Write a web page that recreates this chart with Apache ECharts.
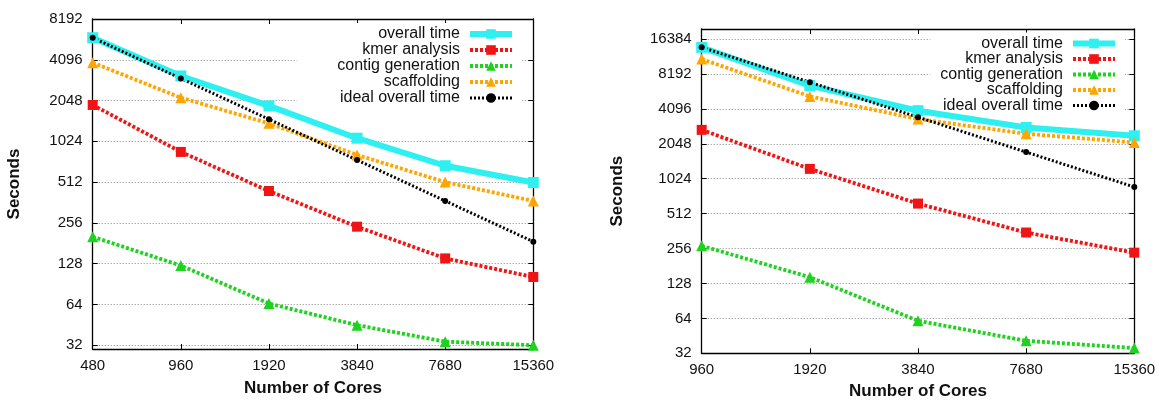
<!DOCTYPE html>
<html><head><meta charset="utf-8">
<script src="https://cdn.jsdelivr.net/npm/echarts@6/dist/echarts.min.js"></script>
<style>html,body{margin:0;padding:0;background:#fff}#c{width:1159px;height:400px}</style>
</head><body><div id="c"></div>
<script>
// ---- data ----
const coresLeft = ['480', '960', '1920', '3840', '7680', '15360'];
const coresRight = ['960', '1920', '3840', '7680', '15360'];
const seriesNames = ['overall time', 'kmer analysis', 'contig generation', 'scaffolding', 'ideal overall time'];

const leftOverall = [5960, 3110, 1870, 1080, 676, 508];
const leftKmer = [1900, 855, 440, 240, 140, 102];
const leftContig = [202, 124, 65, 45, 34, 32];
const leftScaffolding = [3900, 2150, 1390, 813, 512, 372];
const leftIdeal = [5960, 2980, 1490, 745, 372, 186];

const rightOverall = [13900, 6500, 3950, 2830, 2400];
const rightKmer = [2700, 1245, 625, 352, 236];
const rightContig = [270, 145, 61, 41, 35.5];
const rightScaffolding = [11000, 5250, 3350, 2500, 2100];
const rightIdeal = [13900, 6950, 3475, 1737, 869];

const leftYMin = 30, leftYMax = 8192;
const rightYMin = 32, rightYMax = 20000;

// ---- styles ----
const FONT = 'Liberation Sans, Arial, Helvetica, sans-serif';
const styleOf = {
  'overall time': {color: '#2ef0f0', width: 6, type: 'solid', symbol: 'rect', size: 11},
  'kmer analysis': {color: '#f01414', width: 3.8, type: [3, 2], symbol: 'rect', size: 10},
  'contig generation': {color: '#1fd21f', width: 3.8, type: [3, 2], symbol: 'triangle', size: 11},
  'scaffolding': {color: '#ffa500', width: 3.8, type: [3, 2], symbol: 'triangle', size: 11},
  'ideal overall time': {color: '#000000', width: 3, type: [2, 2], symbol: 'circle', size: 6}
};
const leftData = [leftOverall, leftKmer, leftContig, leftScaffolding, leftIdeal];
const rightData = [rightOverall, rightKmer, rightContig, rightScaffolding, rightIdeal];

function mkSeries(name, data, xi, yi) {
  const s = styleOf[name];
  return {
    name: name, type: 'line', data: data, xAxisIndex: xi, yAxisIndex: yi, z: 3,
    symbol: s.symbol, symbolSize: s.size, showAllSymbol: true,
    itemStyle: {color: s.color},
    lineStyle: {color: s.color, width: s.width, type: s.type, cap: 'butt'},
    emphasis: {disabled: true}, animation: false
  };
}

function xAx(cats, gridIndex, pos, nameGap) {
  const bottom = pos === 'bottom';
  return {
    type: 'category', gridIndex: gridIndex, position: pos, data: cats, boundaryGap: false,
    name: bottom ? 'Number of Cores' : '', nameLocation: 'middle', nameGap: nameGap,
    nameTextStyle: {fontFamily: FONT, fontWeight: 'bold', fontSize: 17, color: '#111'},
    axisLine: {show: true, lineStyle: {color: '#000', width: 1.3}},
    axisTick: {show: true, inside: true, length: 5, alignWithLabel: true, lineStyle: {color: '#000', width: 1}},
    axisLabel: {show: bottom, margin: 9, fontFamily: FONT, fontSize: 15, color: '#111'},
    splitLine: {show: false}
  };
}
function yAx(gridIndex, pos, min, max, nameGap) {
  const left = pos === 'left';
  return {
    type: 'log', logBase: 2, gridIndex: gridIndex, position: pos, min: min, max: max,
    name: left ? 'Seconds' : '', nameLocation: 'middle', nameGap: nameGap,
    nameTextStyle: {fontFamily: FONT, fontWeight: 'bold', fontSize: 17, color: '#111'},
    axisLine: {show: true, lineStyle: {color: '#000', width: 1.3}},
    axisTick: {show: true, inside: true, length: 5, lineStyle: {color: '#000', width: 1}},
    axisLabel: {show: left, margin: 10, fontFamily: FONT, fontSize: 15, color: '#111',
      showMinLabel: min === 32, showMaxLabel: max === 8192,
      formatter: v => String(Math.round(v))},
    splitLine: {show: left, lineStyle: {color: '#8a8a8a', width: 1, type: [1, 2]}}
  };
}

const series = [];
seriesNames.forEach((n, i) => series.push(mkSeries(n, leftData[i], 0, 0)));
seriesNames.forEach((n, i) => series.push(mkSeries(n, rightData[i], 2, 2)));

const legendItems = seriesNames.map(n => {
  const s = styleOf[n];
  return {
    name: n,
    itemStyle: {color: s.color},
    lineStyle: {color: s.color, width: s.width, type: s.type, cap: 'butt'}
  };
});

const legendBase = {
  orient: 'vertical', align: 'right', itemWidth: 42, itemHeight: 12, itemGap: 0, z: 1,
  backgroundColor: '#fff', data: legendItems, selectedMode: false,
  textStyle: {fontFamily: FONT, fontSize: 16, color: '#111', padding: [0, 5, 0, 0]}
};

const option = {
  animation: false,
  backgroundColor: '#fff',
  grid: [
    {left: 92.7, right: 625.7, top: 19, bottom: 51, outerBoundsMode: 'none', containLabel: false},
    {left: 701.7, right: 24.7, top: 29, bottom: 46.7, outerBoundsMode: 'none', containLabel: false}
  ],
  xAxis: [
    xAx(coresLeft, 0, 'bottom', 31), xAx(coresLeft, 0, 'top', 0),
    xAx(coresRight, 1, 'bottom', 30), xAx(coresRight, 1, 'top', 0)
  ],
  yAxis: [
    yAx(0, 'left', leftYMin, leftYMax, 70), yAx(0, 'right', leftYMin, leftYMax, 0),
    yAx(1, 'left', rightYMin, rightYMax, 76), yAx(1, 'right', rightYMin, rightYMax, 0)
  ],
  legend: [
    Object.assign({}, legendBase, {right: 637, top: 23, padding: [3, 7, 3, 40]}),
    Object.assign({}, legendBase, {right: 34, top: 32.5, itemGap: -0.5, padding: [3, 7, 3, 10]})
  ],
  series: series
};

const chart = echarts.init(document.getElementById('c'), null, {renderer: 'canvas'});
chart.setOption(option);
</script>
</body></html>
